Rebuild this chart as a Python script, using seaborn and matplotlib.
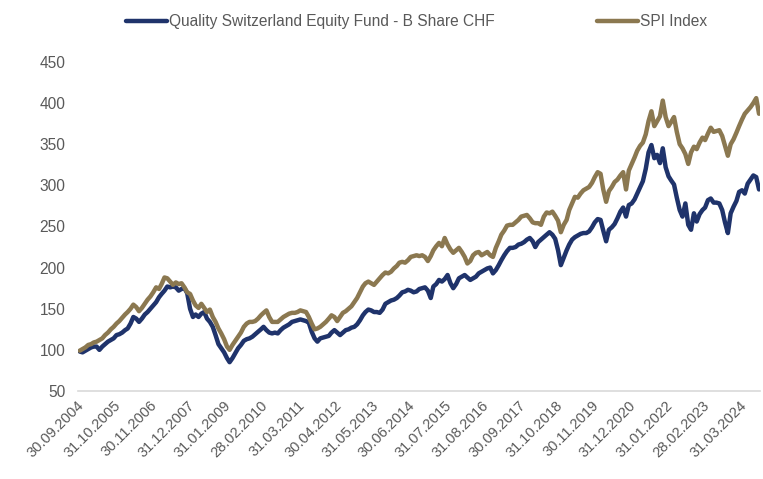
import numpy as np
import pandas as pd
import matplotlib
matplotlib.use('Agg')
import matplotlib.pyplot as plt
import matplotlib.transforms as mtransforms
import seaborn as sns

# monatliche Werte (indexiert auf 100)
fund = [
    98, 97, 99, 101, 103, 104, 104, 100, 104, 107, 110, 112, 114, 118, 119, 121, 124, 126, 132, 140,
    138, 134, 138, 143, 146, 150, 154, 158, 164, 168, 172, 177, 176, 177, 176, 172, 174, 175, 169, 150,
    140, 143, 140, 144, 146, 138, 134, 128, 118, 107, 102, 97, 90, 85, 90, 96, 102, 106, 111, 113,
    114, 116, 119, 122, 125, 128, 124, 121, 120, 121, 120, 124, 127, 129, 131, 134, 135, 136, 137, 136,
    135, 133, 122, 114, 110, 114, 115, 116, 117, 121, 124, 121, 118, 121, 124, 125, 127, 128, 131, 136,
    142, 146, 149, 148, 146, 146, 145, 149, 156, 158, 160, 161, 163, 166, 170, 171, 173, 172, 170, 171,
    174, 175, 176, 172, 163, 177, 180, 185, 183, 186, 191, 181, 175, 180, 187, 189, 191, 188, 185, 187,
    189, 193, 195, 197, 199, 200, 193, 197, 203, 209, 215, 220, 224, 224, 225, 228, 229, 231, 234, 236,
    232, 225, 231, 234, 237, 240, 243, 240, 235, 221, 203, 212, 221, 228, 234, 237, 239, 241, 242, 242,
    244, 249, 255, 259, 258, 245, 232, 246, 249, 253, 260, 268, 273, 262, 276, 278, 283, 290, 298, 305,
    320, 340, 349, 333, 337, 327, 345, 322, 311, 306, 301, 285, 270, 262, 278, 252, 246, 266, 256, 265,
    270, 273, 282, 284, 279, 279, 278, 270, 255, 242, 266, 274, 281, 292, 294, 290, 302, 307, 312, 310,
    295,
]
spi = [
    99, 101, 103, 106, 107, 109, 110, 112, 114, 118, 121, 125, 128, 132, 135, 139, 143, 146, 150, 155,
    152, 147, 151, 156, 161, 165, 170, 176, 174, 180, 188, 187, 183, 179, 182, 180, 181, 176, 170, 168,
    160, 154, 151, 156, 151, 146, 149, 140, 134, 126, 120, 113, 104, 100, 106, 111, 116, 121, 128, 132,
    134, 134, 135, 138, 142, 145, 148, 140, 134, 134, 134, 137, 140, 142, 144, 145, 145, 146, 148, 147,
    146, 140, 132, 125, 126, 128, 131, 134, 138, 142, 140, 135, 140, 145, 147, 150, 153, 158, 163, 170,
    177, 181, 183, 181, 179, 183, 187, 191, 194, 193, 195, 199, 202, 206, 207, 206, 209, 213, 214, 215,
    214, 215, 213, 208, 214, 221, 226, 230, 226, 236, 228, 222, 218, 221, 224, 219, 213, 205, 208, 215,
    218, 219, 215, 217, 219, 215, 213, 224, 232, 240, 245, 251, 252, 252, 255, 258, 262, 263, 264, 260,
    255, 254, 254, 252, 262, 267, 266, 268, 263, 257, 243, 252, 258, 270, 278, 286, 285, 290, 294, 296,
    298, 303, 310, 316, 314, 295, 280, 293, 298, 304, 307, 312, 316, 295, 318, 326, 334, 342, 348, 352,
    362, 378, 390, 372, 378, 384, 403, 383, 372, 377, 383, 365, 350, 345, 338, 326, 340, 347, 344, 352,
    358, 355, 363, 370, 365, 366, 367, 360, 348, 336, 350, 356, 364, 372, 380, 387, 391, 395, 400, 406,
    387,
]
series_names = ['Quality Switzerland Equity Fund - B Share CHF', 'SPI Index']
tick_labels = [
    '30.09.2004', '31.10.2005', '30.11.2006', '31.12.2007', '31.01.2009', '28.02.2010',
    '31.03.2011', '30.04.2012', '31.05.2013', '30.06.2014', '31.07.2015', '31.08.2016',
    '30.09.2017', '31.10.2018', '30.11.2019', '31.12.2020', '31.01.2022', '28.02.2023',
    '31.03.2024',
]
y_ticks = [50, 100, 150, 200, 250, 300, 350, 400, 450]

dates = pd.date_range('2004-09-01', periods=len(fund), freq='MS') + pd.offsets.MonthEnd(0)
df = pd.concat([
    pd.DataFrame({'Datum': dates, 'Wert': fund, 'Serie': series_names[0]}),
    pd.DataFrame({'Datum': dates, 'Wert': spi, 'Serie': series_names[1]}),
])

sns.set_style('white')
plt.rcParams['font.family'] = ['Liberation Sans', 'DejaVu Sans']
grey = '#595959'
palette = {series_names[0]: '#1f336b', series_names[1]: '#8b7850'}

fig = plt.figure(figsize=(7.63, 4.79), dpi=100)
ax = fig.add_axes([0.102, 0.1837, 0.894, 0.687])
sns.lineplot(data=df, x='Datum', y='Wert', hue='Serie', palette=palette,
             linewidth=3.2, ax=ax, legend=True)

ax.set_ylim(50, 450)
ax.set_yticks(y_ticks)
ax.set_xlim(dates[0] - pd.Timedelta(days=20), dates[-1] + pd.Timedelta(days=10))
tick_pos = pd.to_datetime(tick_labels, format='%d.%m.%Y')
ax.set_xticks(tick_pos)
ax.set_xticklabels(tick_labels, rotation=45, ha='right', rotation_mode='anchor')
ax.tick_params(axis='both', length=0, labelcolor=grey)
ax.tick_params(axis='x', pad=5, labelsize=10.5)
ax.tick_params(axis='y', pad=9, labelsize=11.2)
# Datumslabels leicht nach links schieben
shift = mtransforms.ScaledTranslation(-3 / 100, 0, fig.dpi_scale_trans)
for lbl in ax.get_xticklabels():
    lbl.set_transform(lbl.get_transform() + shift)
ax.set_xlabel('')
ax.set_ylabel('')
for s in ['top', 'right', 'left']:
    ax.spines[s].set_visible(False)
ax.spines['bottom'].set_color('#d9d9d9')
ax.spines['bottom'].set_linewidth(1.2)

handles, labels = ax.get_legend_handles_labels()
ax.legend(handles, labels, loc='upper left', bbox_to_anchor=(0.147, 1.0),
          bbox_transform=fig.transFigure, ncol=2, frameon=False,
          handlelength=2.6, handletextpad=0.15, columnspacing=6.6,
          prop={'size': 11.2}, labelcolor=grey)

plt.savefig('out.png', dpi=100)
